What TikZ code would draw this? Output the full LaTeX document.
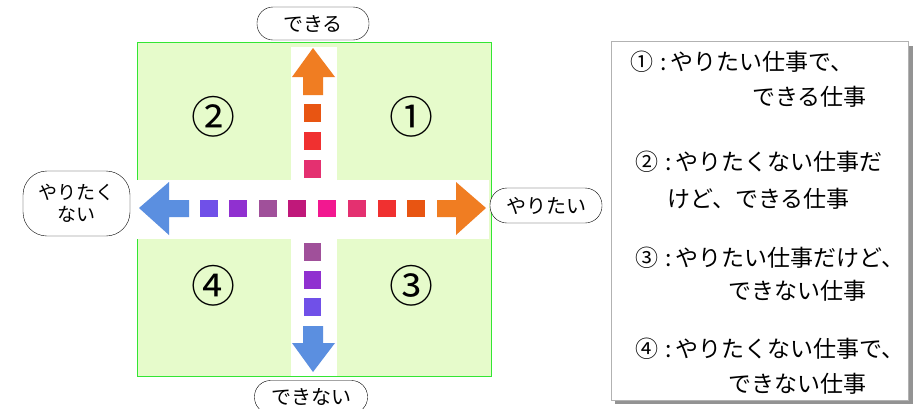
\documentclass[tikz,border=0pt]{standalone}
\usepackage{fontspec}
\setmainfont{Noto Sans CJK JP}

\definecolor{zonegreen}{HTML}{E6FBCB}
\definecolor{zoneline}{HTML}{33E633}
\definecolor{headorange}{HTML}{F07D22}
\definecolor{headblue}{HTML}{5B8FE0}
\definecolor{tileA}{HTML}{7050E8}
\definecolor{tileB}{HTML}{9030D0}
\definecolor{tileC}{HTML}{A0509A}
\definecolor{tileD}{HTML}{C0187A}
\definecolor{tileE}{HTML}{F21890}
\definecolor{tileF}{HTML}{E43070}
\definecolor{tileG}{HTML}{F03030}
\definecolor{tileH}{HTML}{E85512}

\newcommand{\legnum}[1]{#1\hspace{7pt}:\hspace{4pt}}

\tikzset{
  answer/.style={draw, rounded corners=16pt, fill=white, inner sep=0pt,
    font=\fontsize{20}{22}\selectfont},
  zone/.style={font=\fontsize{44}{44}\selectfont, inner sep=0pt},
  legendline/.style={anchor=west, inner sep=0pt, font=\fontsize{23}{25}\selectfont}
}

\begin{document}
\begin{tikzpicture}[x=1pt, y=-1pt]
    \useasboundingbox (0,0) rectangle (917,408);

    % Quadrant field
    \draw[zoneline, fill=zonegreen, line width=0.8pt] (137,42) rectangle (491,376);
    \fill[white] (291,47) rectangle (337,376);
    \fill[white] (137,180) rectangle (489,239);

    % Arrow heads
    \fill[headorange] (313,48) -- (335,77) -- (323,77) -- (323,95) -- (303,95) -- (303,77) -- (292,77) -- cycle;
    \fill[headblue] (313,372) -- (335,343) -- (323,343) -- (323,326) -- (303,326) -- (303,343) -- (292,343) -- cycle;
    \fill[headblue] (139,208) -- (169,182) -- (169,200) -- (189,200) -- (189,217) -- (169,217) -- (169,235) -- cycle;
    \fill[headorange] (486,208) -- (456,182) -- (456,200) -- (437,200) -- (437,217) -- (456,217) -- (456,235) -- cycle;

    % Dashes
    \foreach \x/\c in {200/tileA, 229/tileB, 259/tileC, 288/tileD, 318/tileE, 348/tileF, 378/tileG, 407/tileH}
        \fill[\c] (\x,200) rectangle ++(18,17);
    \foreach \y/\c in {104/tileH, 132/tileG, 160/tileF, 243/tileC, 271/tileB, 298/tileA}
        \fill[\c] (304,\y) rectangle ++(17,18);

    % Quadrant numbers
    \node (one) [zone] at (411,117) {①};
    \node (two) [zone] at (213,117) {②};
    \node (three) [zone] at (411,286) {③};
    \node (four) [zone] at (213,286) {④};

    % Axis labels
    \node (can) [answer, minimum width=112pt, minimum height=33pt] at (313,23.5) {できる};
    \node (cannot) [answer, minimum width=113pt, minimum height=33pt] at (311,397) {できない};
    \node (unwilling) [answer, rounded corners=24pt, minimum width=107pt, minimum height=65pt,
        align=center, font=\fontsize{19}{22}\selectfont] at (76.5,203.5) {やりたく\\ない};
    \node (willing) [answer, rounded corners=17pt, minimum width=112pt, minimum height=35pt] at (546,205.5) {やりたい};

    % Legend
    \fill[gray!85] (615,46) rectangle (913,404);
    \draw[gray!60, fill=white] (611,41) rectangle (908,400);
    \node (legA) [legendline] at (630,62) {\legnum{①}やりたい仕事で、};
    \node (legAb) [legendline] at (752,97) {できる仕事};
    \node (legB) [legendline] at (635,162) {\legnum{②}やりたくない仕事だ};
    \node (legBb) [legendline] at (667,199) {けど、できる仕事};
    \node (legC) [legendline] at (635,258) {\legnum{③}やりたい仕事だけど、};
    \node (legCb) [legendline] at (728,291) {できない仕事};
    \node (legD) [legendline] at (635,349) {\legnum{④}やりたくない仕事で、};
    \node (legDb) [legendline] at (728,384) {できない仕事};

\end{tikzpicture}
\end{document}
